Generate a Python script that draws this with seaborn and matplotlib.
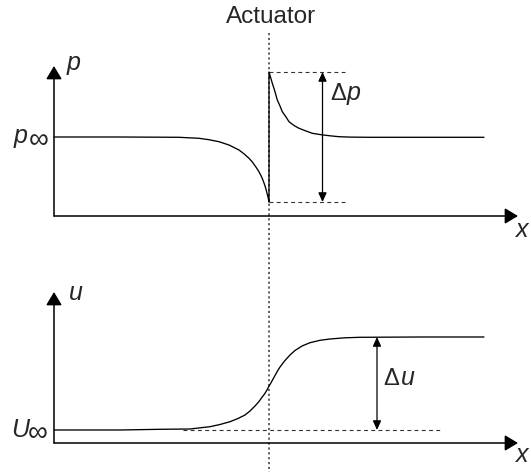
import matplotlib
matplotlib.use("Agg")
import matplotlib.pyplot as plt
from matplotlib.patches import ArrowStyle
import seaborn as sns
import pandas as pd

sns.set_theme(style="white")
plt.rcParams['font.family'] = ['Liberation Sans', 'DejaVu Sans']

# ---- data (in figure pixel coordinates) ----
pressure_x = [54, 120, 179, 199, 209, 219, 229, 239, 244, 249, 252.5, 255.7, 258.5, 260.7,
              262.5, 264, 265.5, 266.7, 268, 269,
              269, 270.5, 272.3, 274.5, 277.3, 280, 282.3, 286, 289, 294, 299, 306, 312.3,
              321.7, 330, 339, 350, 369, 420, 484]
pressure_y = [137, 137, 137.3, 138.3, 139.7, 141.7, 145, 150, 153.8, 158.3, 162.2, 166.7, 171, 175,
              179, 183, 187.5, 192, 197, 202,
              72, 77, 83.3, 90, 100, 106, 111.7, 117, 121.7, 125.5, 128.3, 131, 133.3,
              134.8, 135.8, 136.7, 137.1, 137.3, 137.3, 137.3]

velocity_x = [54, 120, 160, 190, 210, 220, 230, 238, 245, 250, 255, 259, 262, 264.5, 266.7,
              268.5, 270, 272.5, 275, 277.5, 280, 285, 290, 295, 302, 310, 320, 330,
              345, 360, 420, 484]
velocity_y = [430, 430, 429.3, 429, 426.7, 424.5, 421.7, 418.5, 415, 411, 406, 401.5, 397.3, 394,
              390.5, 387, 384.5, 380, 375.5, 371, 367, 360.5, 355, 350.5, 346, 342.7,
              340.3, 339, 337.8, 337.3, 337, 337]

labels = {"actuator": "Actuator", "p": "p", "pinf": "p", "inf": "\u221e", "delta": "\u0394",
          "u": "u", "uinf": "U", "x": "x"}

W, H = 531, 475
fig = plt.figure(figsize=(W / 100, H / 100), dpi=100)
ax = fig.add_axes([0, 0, 1, 1])
ax.set_xlim(0, W)
ax.set_ylim(H, 0)
ax.axis('off')

dfp = pd.DataFrame({"x": pressure_x, "y": pressure_y})
dfu = pd.DataFrame({"x": velocity_x, "y": velocity_y})

# actuator dotted line
ax.plot([269, 269], [33, 472], color='#555555', lw=1.3, ls=(0, (1.2, 1.5)), zorder=1)

sns.lineplot(data=dfp, x="x", y="y", ax=ax, estimator=None, sort=False,
             color='black', lw=0.95, zorder=3)
sns.lineplot(data=dfu, x="x", y="y", ax=ax, estimator=None, sort=False,
             color='black', lw=0.95, zorder=3)

# dashed reference lines
dash = (0, (3.5, 3))
ax.plot([269, 345], [72, 72], color='#333333', lw=0.8, ls=dash)
ax.plot([269, 345], [202, 202], color='#333333', lw=0.8, ls=dash)
ax.plot([183, 443], [430, 430], color='#333333', lw=0.8, ls=dash)

axis_style = ArrowStyle('-|>', head_length=0.8, head_width=0.48)
def axis_arrow(x0, y0, x1, y1):
    ax.annotate('', xy=(x1, y1), xytext=(x0, y0),
                arrowprops=dict(arrowstyle=axis_style, mutation_scale=10, lw=1.1,
                                color='black', shrinkA=0, shrinkB=0))

axis_arrow(54, 216, 54, 66)
axis_arrow(54, 216, 518, 216)
axis_arrow(54, 443, 54, 292)
axis_arrow(54, 443, 518, 443)

dbl_style = ArrowStyle('<|-|>', head_length=0.55, head_width=0.25)
def dbl_arrow(x, y0, y1):
    ax.annotate('', xy=(x, y1), xytext=(x, y0),
                arrowprops=dict(arrowstyle=dbl_style, mutation_scale=10, lw=0.9,
                                color='black', shrinkA=0, shrinkB=0))

dbl_arrow(322.5, 72, 202)
dbl_arrow(377, 337, 430)

fs = 18
it = dict(fontsize=fs, style='italic', va='baseline', ha='left')
ax.text(271, 23, labels["actuator"], ha='center', va='baseline', fontsize=17.5)
ax.text(67, 70, labels["p"], **it)
ax.text(14, 143, labels["pinf"], **it)
ax.text(29, 148, labels["inf"], fontsize=20, va='baseline', ha='left')
ax.text(330, 100, labels["delta"], fontsize=17, va='baseline', ha='left')
ax.text(347, 100, labels["p"], **it)
ax.text(69, 300, labels["u"], **it)
ax.text(11, 437, labels["uinf"], **it)
ax.text(27.5, 441, labels["inf"], fontsize=20, va='baseline', ha='left')
ax.text(383, 385, labels["delta"], fontsize=17, va='baseline', ha='left')
ax.text(401, 385, labels["u"], **it)
ax.text(516, 237, labels["x"], **it)
ax.text(516, 462, labels["x"], **it)

fig.savefig("out.png", dpi=100)
